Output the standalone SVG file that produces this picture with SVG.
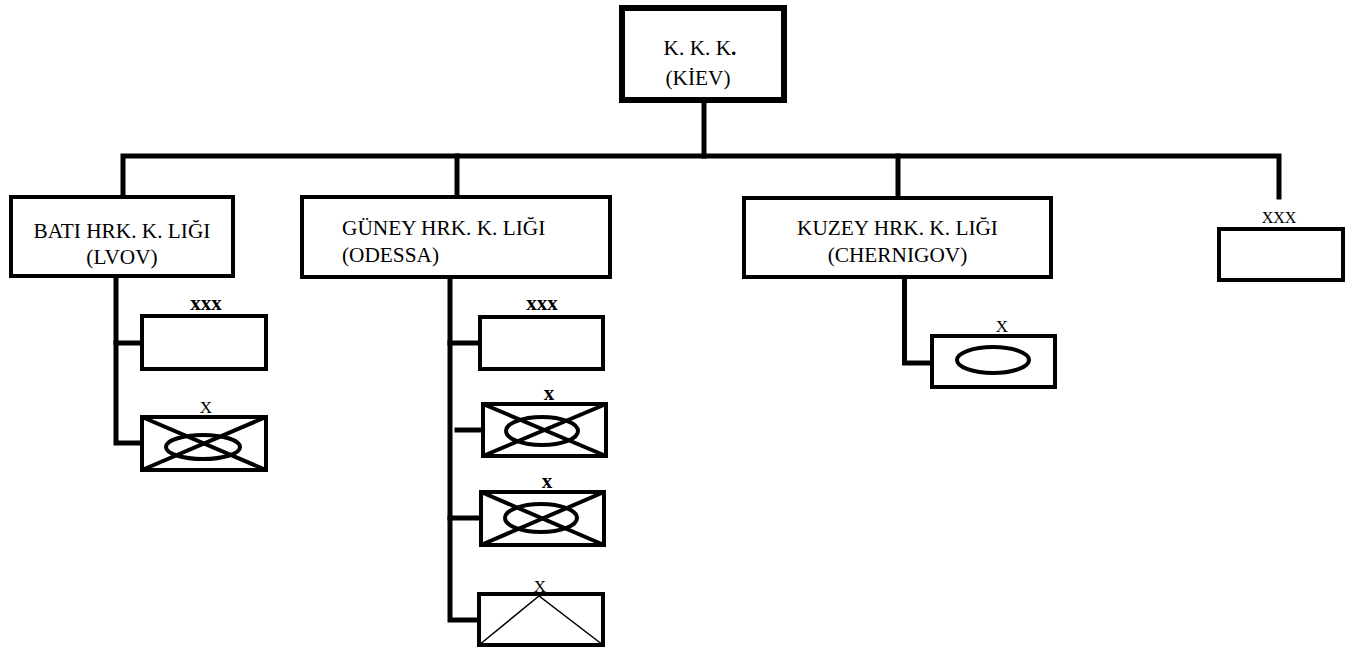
<svg xmlns="http://www.w3.org/2000/svg" width="1352" height="648" viewBox="0 0 1352 648">
<style>
.bx{fill:#fff;stroke:#000;stroke-width:4}
.cn{fill:none;stroke:#000;stroke-width:5;stroke-linejoin:miter;stroke-linecap:square}
.dg{stroke:#000;stroke-width:4}
.el{fill:none;stroke:#000;stroke-width:4}
.t{font-family:"Liberation Serif","Times New Roman",serif;font-size:21.3px;fill:#000}
.m{text-anchor:middle}
.sx{font-family:"Liberation Serif","Times New Roman",serif;font-size:21px;font-weight:bold;fill:#000;text-anchor:middle}
.ux{font-family:"Liberation Serif","Times New Roman",serif;font-size:17px;fill:#000;text-anchor:middle}
</style>
<rect width="1352" height="648" fill="#fff"/>
<g id="connectors">
<path class="cn" d="M704 100 V156"/>
<path class="cn" d="M123 197 V156 H1279 V197"/>
<path class="cn" d="M457 156 V197"/>
<path class="cn" d="M898 156 V197"/>
<path class="cn" d="M116 278 V443 H142"/>
<path class="cn" d="M116 343 H142"/>
<path class="cn" d="M450 279 V620 H477"/>
<path class="cn" d="M450 343 H478"/>
<path class="cn" d="M457 430 H481"/>
<path class="cn" d="M450 518 H479"/>
<path class="cn" d="M904.5 279 V363 H930"/>
</g>
<g id="kkk">
<rect x="622" y="8" width="162" height="92" fill="#fff" stroke="#000" stroke-width="6"/>
<text class="t m" x="700" y="55">K. K. K<tspan font-weight="bold">.</tspan></text>
<text class="t m" x="698" y="85">(KİEV)</text>
</g>
<g id="bati">
<rect class="bx" x="11" y="197" width="222" height="79"/>
<text class="t m" x="122" y="238">BATI HRK. K. LIĞI</text>
<text class="t m" x="122" y="264">(LVOV)</text>
</g>
<g id="guney">
<rect class="bx" x="302" y="197" width="308" height="80"/>
<text class="t" x="342" y="235">GÜNEY HRK. K. LIĞI</text>
<text class="t" x="342" y="262">(ODESSA)</text>
</g>
<g id="kuzey">
<rect class="bx" x="744" y="198" width="307" height="79"/>
<text class="t m" x="897.5" y="235">KUZEY HRK. K. LIĞI</text>
<text class="t m" x="897.5" y="262">(CHERNIGOV)</text>
</g>
<g id="right-xxx">
<text class="ux" x="1279" y="223" style="font-size:16px">XXX</text>
<rect class="bx" x="1219" y="229" width="124" height="51"/>
</g>
<g id="bati-xxx">
<text class="sx" x="206" y="310">xxx</text>
<rect class="bx" x="142" y="316" width="124" height="53"/>
</g>
<g id="bati-x">
<text class="ux" x="206" y="413">X</text>
<rect class="bx" x="142" y="417" width="124" height="53"/>
<line class="dg" x1="142" y1="417" x2="266" y2="470"/>
<line class="dg" x1="266" y1="417" x2="142" y2="470"/>
<ellipse class="el" cx="203" cy="447" rx="37" ry="12"/>
</g>
<g id="guney-xxx">
<text class="sx" x="542" y="310">xxx</text>
<rect class="bx" x="480" y="317" width="123" height="52"/>
</g>
<g id="guney-x1">
<text class="sx" x="549" y="400">x</text>
<rect class="bx" x="483" y="404" width="123" height="52"/>
<line class="dg" x1="483" y1="404" x2="606" y2="456"/>
<line class="dg" x1="606" y1="404" x2="483" y2="456"/>
<ellipse class="el" cx="542" cy="431" rx="36" ry="14"/>
</g>
<g id="guney-x2">
<text class="sx" x="547" y="488">x</text>
<rect class="bx" x="481" y="492" width="123" height="53"/>
<line class="dg" x1="481" y1="492" x2="604" y2="545"/>
<line class="dg" x1="604" y1="492" x2="481" y2="545"/>
<ellipse class="el" cx="541" cy="518" rx="36" ry="14"/>
</g>
<g id="guney-x3">
<rect class="bx" x="479" y="594" width="124" height="51"/>
<polyline points="479,645 539,596 603,645" fill="none" stroke="#000" stroke-width="1.5"/>
<text class="ux" x="540" y="592">X</text>
</g>
<g id="kuzey-x">
<text class="ux" x="1002" y="332">X</text>
<rect class="bx" x="932" y="336" width="123" height="51"/>
<ellipse class="el" cx="993" cy="360" rx="36" ry="13"/>
</g>
</svg>
